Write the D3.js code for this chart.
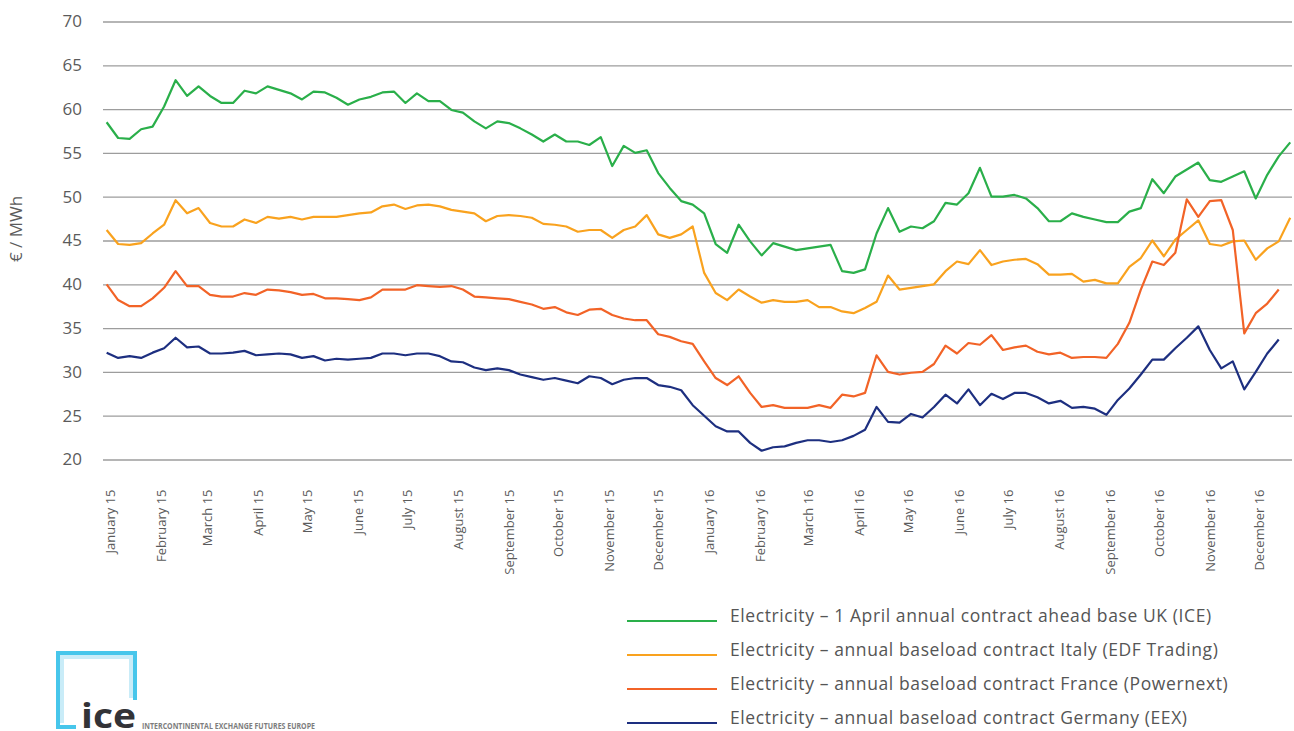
<!DOCTYPE html>
<html>
<head>
<meta charset="utf-8">
<script src="https://cdn.jsdelivr.net/npm/d3@7"></script>
<style>
  body { margin: 0; background: #fff; }
  svg text { font-family: "Open Sans", "DejaVu Sans", sans-serif; }
</style>
</head>
<body>
<script>
// weekly readings (Fridays), Jan 2015 - Dec 2016, EUR/MWh
const weeks = d3.timeFriday.range(new Date(2015, 0, 2), new Date(2016, 11, 24));
const months = d3.timeMonth.range(new Date(2015, 0, 1), new Date(2017, 0, 1));
const yTicks = [20, 25, 30, 35, 40, 45, 50, 55, 60, 65, 70];

const ukIce = [58.5, 56.7, 56.6, 57.7, 58.0, 60.3, 63.3, 61.5, 62.6, 61.5, 60.7, 60.7, 62.1, 61.8, 62.6, 62.2, 61.8, 61.1, 62.0, 61.9, 61.3,
  60.5, 61.1, 61.4, 61.9, 62.0, 60.7, 61.8, 60.9, 60.9, 59.9, 59.6, 58.6, 57.8, 58.6, 58.4, 57.8, 57.1, 56.3, 57.1, 56.3, 56.3,
  55.9, 56.8, 53.5, 55.8, 55.0, 55.3, 52.7, 51.0, 49.5, 49.1, 48.1, 44.6, 43.6, 46.8, 44.9, 43.3, 44.7, 44.3, 43.9, 44.1, 44.3,
  44.5, 41.5, 41.3, 41.7, 45.8, 48.7, 46.0, 46.6, 46.4, 47.2, 49.3, 49.1, 50.4, 53.3, 50.0, 50.0, 50.2, 49.8, 48.7, 47.2, 47.2,
  48.1, 47.7, 47.4, 47.1, 47.1, 48.3, 48.7, 52.0, 50.4, 52.3, 53.1, 53.9, 51.9, 51.7, 52.3, 52.9, 49.8, 52.5, 54.6, 56.2];

const italyEdf = [46.2, 44.6, 44.5, 44.7, 45.8, 46.8, 49.6, 48.1, 48.7, 47.0, 46.6, 46.6, 47.4, 47.0, 47.7, 47.5, 47.7, 47.4, 47.7, 47.7, 47.7,
  47.9, 48.1, 48.2, 48.9, 49.1, 48.6, 49.0, 49.1, 48.9, 48.5, 48.3, 48.1, 47.2, 47.8, 47.9, 47.8, 47.6, 46.9, 46.8, 46.6, 46.0,
  46.2, 46.2, 45.3, 46.2, 46.6, 47.9, 45.7, 45.3, 45.7, 46.6, 41.3, 39.0, 38.2, 39.4, 38.6, 37.9, 38.2, 38.0, 38.0, 38.2, 37.4,
  37.4, 36.9, 36.7, 37.3, 38.0, 41.0, 39.4, 39.6, 39.8, 40.0, 41.5, 42.6, 42.3, 43.9, 42.2, 42.6, 42.8, 42.9, 42.3, 41.1, 41.1,
  41.2, 40.3, 40.5, 40.1, 40.1, 42.0, 43.0, 45.0, 43.2, 45.1, 46.2, 47.3, 44.6, 44.4, 44.9, 45.0, 42.8, 44.1, 44.9, 47.6];

const francePnx = [40.0, 38.2, 37.5, 37.5, 38.4, 39.6, 41.5, 39.8, 39.8, 38.8, 38.6, 38.6, 39.0, 38.8, 39.4, 39.3, 39.1, 38.8, 38.9, 38.4, 38.4,
  38.3, 38.2, 38.5, 39.4, 39.4, 39.4, 39.9, 39.8, 39.7, 39.8, 39.4, 38.6, 38.5, 38.4, 38.3, 38.0, 37.7, 37.2, 37.4, 36.8, 36.5,
  37.1, 37.2, 36.5, 36.1, 35.9, 35.9, 34.3, 34.0, 33.5, 33.2, 31.2, 29.3, 28.5, 29.5, 27.6, 26.0, 26.2, 25.9, 25.9, 25.9, 26.2,
  25.9, 27.4, 27.2, 27.6, 31.9, 30.0, 29.7, 29.9, 30.0, 30.9, 33.0, 32.1, 33.3, 33.1, 34.2, 32.5, 32.8, 33.0, 32.3, 32.0, 32.2,
  31.6, 31.7, 31.7, 31.6, 33.2, 35.6, 39.4, 42.6, 42.2, 43.6, 49.7, 47.7, 49.5, 49.6, 46.2, 34.4, 36.7, 37.8, 39.4, null];

const germanyEex = [32.2, 31.6, 31.8, 31.6, 32.2, 32.7, 33.9, 32.8, 32.9, 32.1, 32.1, 32.2, 32.4, 31.9, 32.0, 32.1, 32.0, 31.6, 31.8, 31.3, 31.5,
  31.4, 31.5, 31.6, 32.1, 32.1, 31.9, 32.1, 32.1, 31.8, 31.2, 31.1, 30.5, 30.2, 30.4, 30.2, 29.7, 29.4, 29.1, 29.3, 29.0, 28.7,
  29.5, 29.3, 28.6, 29.1, 29.3, 29.3, 28.5, 28.3, 27.9, 26.2, 25.0, 23.8, 23.2, 23.2, 21.9, 21.0, 21.4, 21.5, 21.9, 22.2, 22.2,
  22.0, 22.2, 22.7, 23.4, 26.0, 24.3, 24.2, 25.2, 24.8, 26.0, 27.4, 26.4, 28.0, 26.2, 27.5, 26.9, 27.6, 27.6, 27.1, 26.4, 26.7,
  25.9, 26.0, 25.8, 25.1, 26.8, 28.1, 29.7, 31.4, 31.4, 32.7, 33.9, 35.2, 32.5, 30.4, 31.2, 28.0, 30.0, 32.1, 33.7, null];

const seriesNames = [
  "Electricity \u2013 1 April annual contract ahead base UK (ICE)",
  "Electricity \u2013 annual baseload contract Italy (EDF Trading)",
  "Electricity \u2013 annual baseload contract France (Powernext)",
  "Electricity \u2013 annual baseload contract Germany (EEX)"
];
const seriesColors = ["#2aaf4a", "#f9a21e", "#f26327", "#1d2f80"];
const seriesValues = [ukIce, italyEdf, francePnx, germanyEex];

const W = 1294, H = 731;
const left = 103, right = 1292;

const svg = d3.select("body").append("svg")
  .attr("width", W).attr("height", H);

const x = d3.scaleTime()
  .domain([new Date(2015, 0, 1), new Date(2017, 0, 1)])
  .range([105, 1305]);
const y = d3.scaleLinear().domain([20, 70]).range([459.5, 21.5]);

// y axis + gridlines
const gy = svg.append("g")
  .attr("transform", `translate(${left},0)`)
  .call(d3.axisLeft(y).tickValues(yTicks).tickSize(-(right - left)).tickPadding(21))
  .attr("font-family", null).attr("font-size", null);
gy.select(".domain").remove();
gy.selectAll(".tick line").attr("stroke", "#9d9d9d").attr("stroke-width", 1.3);
gy.selectAll(".tick text").attr("fill", "#5b5b5b").style("font-size", "17px");

// x axis, rotated month labels
const gx = svg.append("g")
  .attr("transform", `translate(0,${y(20)})`)
  .call(d3.axisBottom(x).tickValues(months).tickFormat(d3.timeFormat("%B %y")).tickSize(0))
  .attr("font-family", null).attr("font-size", null);
gx.select(".domain").remove();
gx.selectAll(".tick text")
  .attr("transform", "rotate(-90)")
  .attr("text-anchor", "end")
  .attr("x", -30)
  .attr("y", 5)
  .attr("dy", "0.35em")
  .attr("fill", "#5b5b5b")
  .style("font-size", "13px");

// y title
svg.append("text")
  .attr("transform", "translate(22,229) rotate(-90)")
  .attr("text-anchor", "middle")
  .attr("fill", "#5b5b5b")
  .style("font-size", "17px")
  .text("\u20ac / MWh");

// lines
const line = d3.line()
  .defined(d => d[1] != null)
  .x(d => x(d[0]))
  .y(d => y(d[1]));

seriesValues.forEach((vals, i) => {
  svg.append("path")
    .datum(weeks.map((w, k) => [w, vals[k]]))
    .attr("fill", "none")
    .attr("stroke", seriesColors[i])
    .attr("stroke-width", 2.2)
    .attr("stroke-linejoin", "round")
    .attr("d", line);
});

// legend
const legendY = [620, 654, 688, 722];
const lg = svg.append("g");
seriesNames.forEach((name, i) => {
  lg.append("line")
    .attr("x1", 627).attr("x2", 717)
    .attr("y1", legendY[i] + 1).attr("y2", legendY[i] + 1)
    .attr("stroke", seriesColors[i]).attr("stroke-width", 2.2);
  lg.append("text")
    .attr("x", 730).attr("y", legendY[i] - 4)
    .attr("dy", "0.35em")
    .attr("fill", "#555")
    .style("font-size", "17.5px")
    .style("letter-spacing", "0.6px")
    .text(name);
});

// ICE logo
const logo = svg.append("g");
logo.append("path")
  .attr("d", "M135,700 V653 H58 V727 H76")
  .attr("fill", "none").attr("stroke", "#47c6eb").attr("stroke-width", 4);
logo.append("path")
  .attr("d", "M131,698 V657 H62 V723")
  .attr("fill", "none").attr("stroke", "#c9ecf8").attr("stroke-width", 4);
logo.append("text")
  .attr("x", 81).attr("y", 728)
  .attr("fill", "#333337")
  .attr("textLength", 55)
  .attr("lengthAdjust", "spacingAndGlyphs")
  .style("font-size", "34px")
  .style("font-weight", "bold")
  .text("ice");
logo.append("text")
  .attr("x", 142).attr("y", 729)
  .attr("fill", "#7d7d7d")
  .attr("textLength", 173)
  .attr("lengthAdjust", "spacingAndGlyphs")
  .style("font-size", "9px")
  .style("font-weight", "bold")
  .text("INTERCONTINENTAL EXCHANGE FUTURES EUROPE");
</script>
</body>
</html>
